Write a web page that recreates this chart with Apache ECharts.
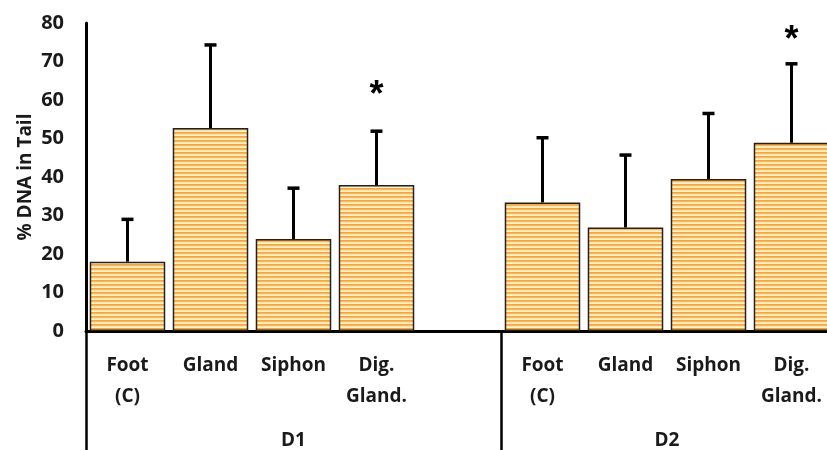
<!DOCTYPE html>
<html>
<head>
<meta charset="utf-8">
<script src="https://cdn.jsdelivr.net/npm/echarts@6/dist/echarts.min.js"></script>
<style>
html,body{margin:0;padding:0;background:#fff;overflow:hidden;width:827px;height:450px;}
#chart{width:834px;height:450px;}
</style>
</head>
<body>
<div id="chart"></div>
<script>
// ---- data ----
const categories = ['Foot\n(C)', 'Gland', 'Siphon', 'Dig.\nGland.', '', 'Foot\n(C)', 'Gland', 'Siphon', 'Dig.\nGland.'];
const meanValues = [18.0, 52.7, 23.9, 37.9, null, 33.4, 26.9, 39.5, 48.9];
const upperValues = [29.0, 74.3, 37.1, 51.9, null, 50.2, 45.7, 56.5, 69.4];
const starValues = [null, null, null, 61.0, null, null, null, null, 75.2];
const groups = ['D1', 'D2'];
const groupSizes = [5, 4];
const yTicks = { min: 0, max: 80, interval: 10 };

// ---- stripe pattern ----
const pc = document.createElement('canvas');
pc.width = 8; pc.height = 4;
const pctx = pc.getContext('2d');
const rows = ['#FFA52A', '#FFB64E', '#FFE2B0', '#FFF5E4'];
rows.forEach((c, i) => { pctx.fillStyle = c; pctx.fillRect(0, i, 8, 1); });

const FONT = '"Open Sans"';

// group centers (in slot units) for the second-level axis
const groupCenters = {};
let acc = 0;
groups.forEach((g, i) => { groupCenters[(acc + groupSizes[i] / 2).toFixed(2)] = g; acc += groupSizes[i]; });
const groupStarts = [];
acc = 0;
groupSizes.forEach(s => { groupStarts.push(acc); acc += s; });

const errData = meanValues.map((m, i) => (m == null ? null : [i, m, upperValues[i]])).filter(d => d);
const starData = starValues.map((s, i) => (s == null ? null : [i, s])).filter(d => d);

const chart = echarts.init(document.getElementById('chart'), null, { renderer: 'canvas' });
chart.setOption({
  animation: false,
  backgroundColor: '#ffffff',
  grid: { left: 86, top: 23, height: 308, width: 747, containLabel: false, outerBoundsMode: 'none' },
  xAxis: [
    {
      type: 'category',
      data: categories,
      boundaryGap: true,
      axisLine: { show: true, lineStyle: { color: '#000', width: 3 } },
      axisTick: {
        show: true,
        interval: (idx) => groupStarts.indexOf(idx) >= 0,
        length: 125,
        lineStyle: { color: '#000', width: 2.5 }
      },
      axisLabel: {
        interval: 0,
        margin: 19,
        fontFamily: FONT,
        fontWeight: 'bold',
        fontSize: 19,
        lineHeight: 31,
        color: '#1a1a1a'
      },
      splitLine: { show: false }
    },
    {
      type: 'value',
      position: 'bottom',
      min: 0,
      max: 9,
      interval: 0.5,
      axisLine: { show: false },
      axisTick: { show: false },
      splitLine: { show: false },
      axisLabel: {
        margin: 100,
        fontFamily: FONT,
        fontWeight: 'bold',
        fontSize: 19,
        color: '#1a1a1a',
        formatter: (v) => groupCenters[Number(v).toFixed(2)] || ''
      }
    }
  ],
  yAxis: {
    type: 'value',
    min: yTicks.min,
    max: yTicks.max,
    interval: yTicks.interval,
    name: '% DNA in Tail',
    nameLocation: 'middle',
    nameGap: 51,
    nameMoveOverlap: false,
    nameTextStyle: { fontFamily: FONT, fontWeight: 'bold', fontSize: 19, color: '#1a1a1a' },
    axisLine: { show: true, lineStyle: { color: '#000', width: 3 } },
    axisTick: { show: false },
    splitLine: { show: false },
    axisLabel: { margin: 22, fontFamily: FONT, fontWeight: 'bold', fontSize: 20, color: '#1a1a1a' }
  },
  series: [
    {
      type: 'bar',
      xAxisIndex: 0,
      data: meanValues,
      barCategoryGap: '9%',
      itemStyle: {
        color: { image: pc, repeat: 'repeat' },
        borderColor: '#222',
        borderWidth: 1.5
      },
      z: 2
    },
    {
      type: 'custom',
      xAxisIndex: 0,
      data: errData,
      z: 3,
      renderItem: (params, api) => {
        const i = api.value(0);
        const p0 = api.coord([i, api.value(1)]);
        const p1 = api.coord([i, api.value(2)]);
        return {
          type: 'group',
          children: [
            { type: 'line', shape: { x1: p0[0], y1: p0[1], x2: p1[0], y2: p1[1] }, style: { stroke: '#000', lineWidth: 3 } },
            { type: 'line', shape: { x1: p1[0] - 6, y1: p1[1], x2: p1[0] + 6, y2: p1[1] }, style: { stroke: '#000', lineWidth: 3.5 } }
          ]
        };
      }
    },
    {
      type: 'custom',
      xAxisIndex: 0,
      data: starData,
      z: 3,
      renderItem: (params, api) => {
        const p = api.coord([api.value(0), api.value(1)]);
        return {
          type: 'text',
          style: { text: '*', x: p[0], y: p[1], textAlign: 'center', textVerticalAlign: 'middle', font: 'bold 36px "Liberation Sans"', fill: '#000' }
        };
      }
    }
  ]
});
</script>
</body>
</html>
